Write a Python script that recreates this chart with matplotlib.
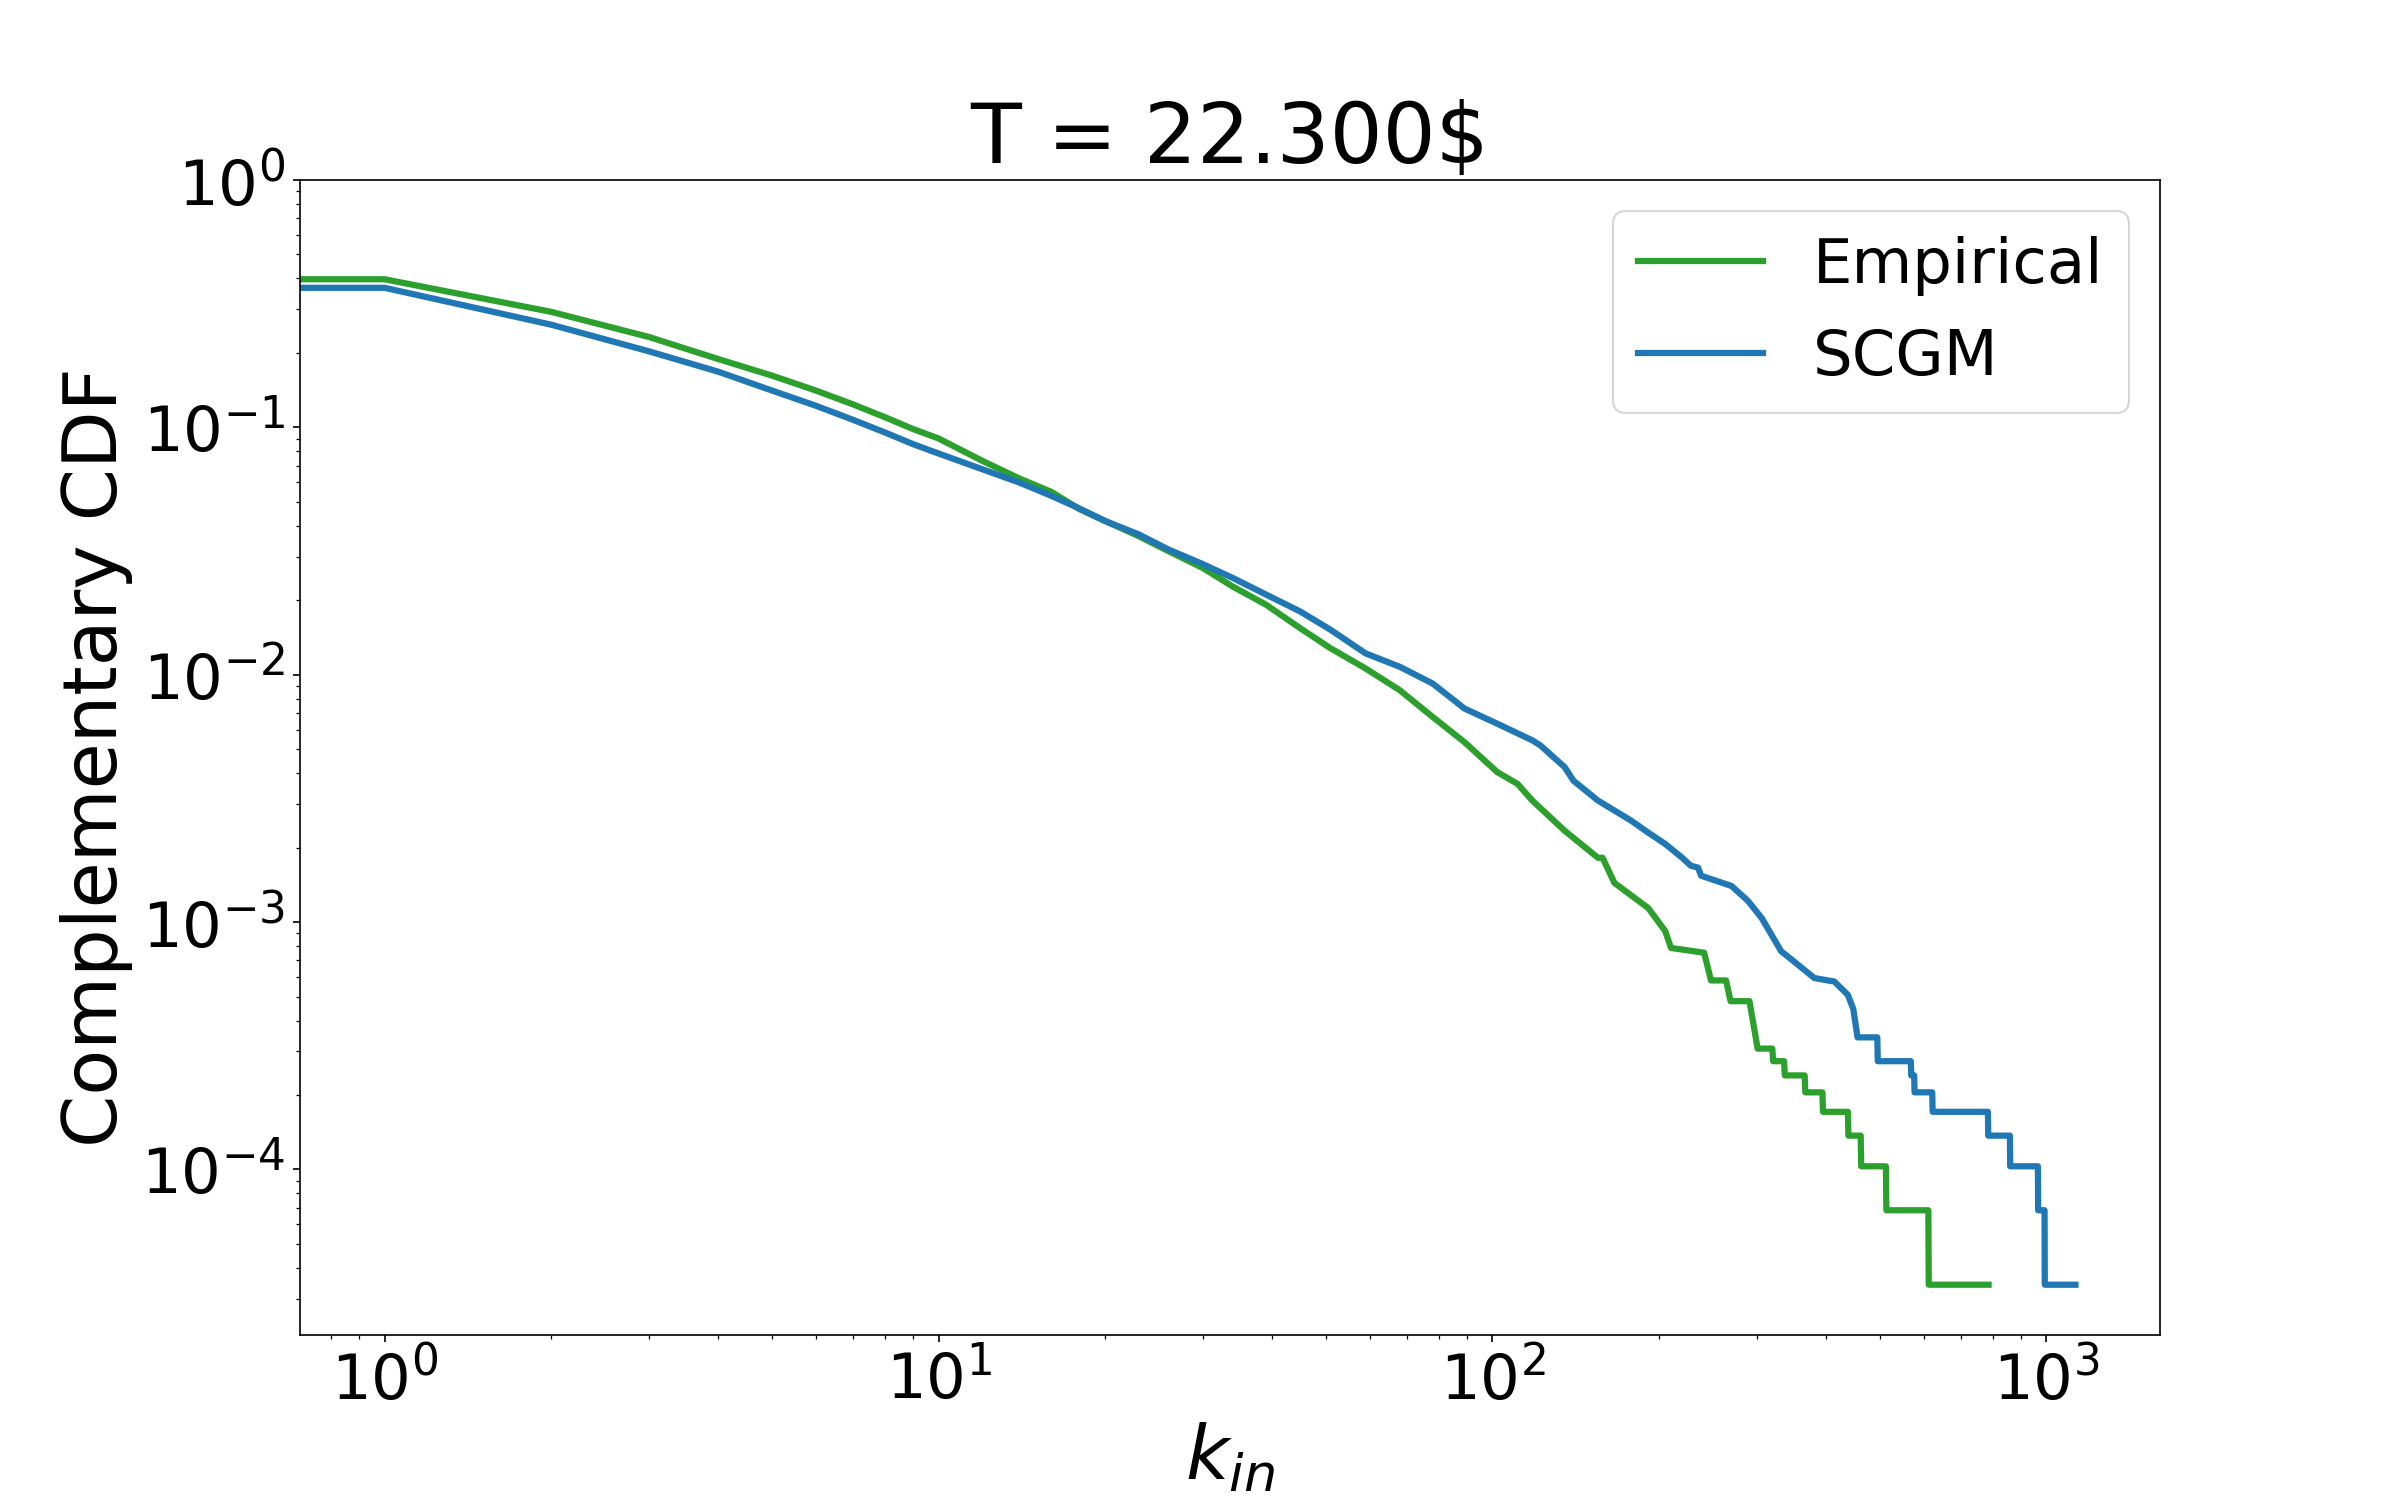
import numpy as np
import matplotlib
matplotlib.use("Agg")
import matplotlib.pyplot as plt

# Complementary CDF of in-degree
emp_k = [0, 1, 2, 3, 4, 5, 6, 7, 8, 9, 10, 12, 14, 16, 18, 20, 23, 26, 30,
         34, 39, 45, 51, 59, 68, 78, 89, 102, 111, 118, 135, 155, 158, 166,
         191, 205, 210, 241, 248, 264, 269, 291, 301, 320, 321, 336, 337,
         366, 367, 394, 395, 438, 439, 462, 463, 513, 514, 612, 613, 786]
emp_ccdf = [0.397, 0.397, 0.293, 0.232, 0.189, 0.162, 0.141, 0.124, 0.110,
            0.0984, 0.0902, 0.0732, 0.0621, 0.0548, 0.0466, 0.0418, 0.0363,
            0.0316, 0.0270, 0.0227, 0.0192, 0.0154, 0.0128, 0.0106, 0.00866,
            0.00675, 0.00534, 0.00404, 0.00362, 0.00310, 0.00234, 0.00182,
            0.00182, 0.00144, 0.00114, 0.00092, 0.000786, 0.000752, 0.000581,
            0.000581, 0.000479, 0.000479, 0.000308, 0.000308, 0.000274,
            0.000274, 0.000240, 0.000240, 0.000205, 0.000205, 0.000171,
            0.000171, 0.000137, 0.000137, 0.000103, 0.000103, 0.0000684,
            0.0000684, 0.0000342, 0.0000342]

scgm_k = [0, 1, 2, 3, 4, 5, 6, 7, 8, 9, 10, 12, 14, 16, 18, 20, 23, 26, 30,
          34, 39, 45, 51, 59, 68, 78, 89, 102, 118, 122, 135, 140, 155, 178,
          191, 205, 220, 228, 235, 238, 270, 289, 306, 332, 341, 381, 414,
          438, 448, 456, 495, 496, 569, 570, 577, 578, 622, 623, 784, 785,
          859, 860, 965, 966, 992, 993, 1128]
scgm_ccdf = [0.3666, 0.3666, 0.260, 0.203, 0.168, 0.141, 0.1224, 0.1074,
             0.0954, 0.0855, 0.0784, 0.0677, 0.0598, 0.0528, 0.0469, 0.0418,
             0.0369, 0.0321, 0.0280, 0.0246, 0.0211, 0.0180, 0.0152, 0.0122,
             0.01077, 0.00921, 0.00730, 0.00634, 0.00543, 0.00518, 0.00423,
             0.00373, 0.00310, 0.00257, 0.00230, 0.00207, 0.00182, 0.00169,
             0.00166, 0.00154, 0.00140, 0.00122, 0.00104, 0.000762, 0.000727,
             0.000594, 0.000575, 0.000508, 0.000445, 0.000342, 0.000342,
             0.000274, 0.000274, 0.000240, 0.000240, 0.000205, 0.000205,
             0.000171, 0.000171, 0.000137, 0.000137, 0.000103, 0.000103,
             0.0000684, 0.0000684, 0.0000342, 0.0000342]

title = "T = 22.300$"

fig, ax = plt.subplots(figsize=(16, 10), dpi=150)
ax.plot(emp_k, emp_ccdf, color="tab:green", lw=3, label="Empirical")
ax.plot(scgm_k, scgm_ccdf, color="tab:blue", lw=3, label="SCGM")
ax.set_xscale("log")
ax.set_yscale("log")
ax.set_ylim(top=1)

ax.set_title(title, fontsize=40)
ax.set_xlabel("$k_{in}$", fontsize=36)
ax.set_ylabel("Complementary CDF", fontsize=36)
ax.tick_params(axis="both", which="major", labelsize=30)
ax.legend(loc="upper right", fontsize=30)

fig.savefig("out.png", dpi=150)
